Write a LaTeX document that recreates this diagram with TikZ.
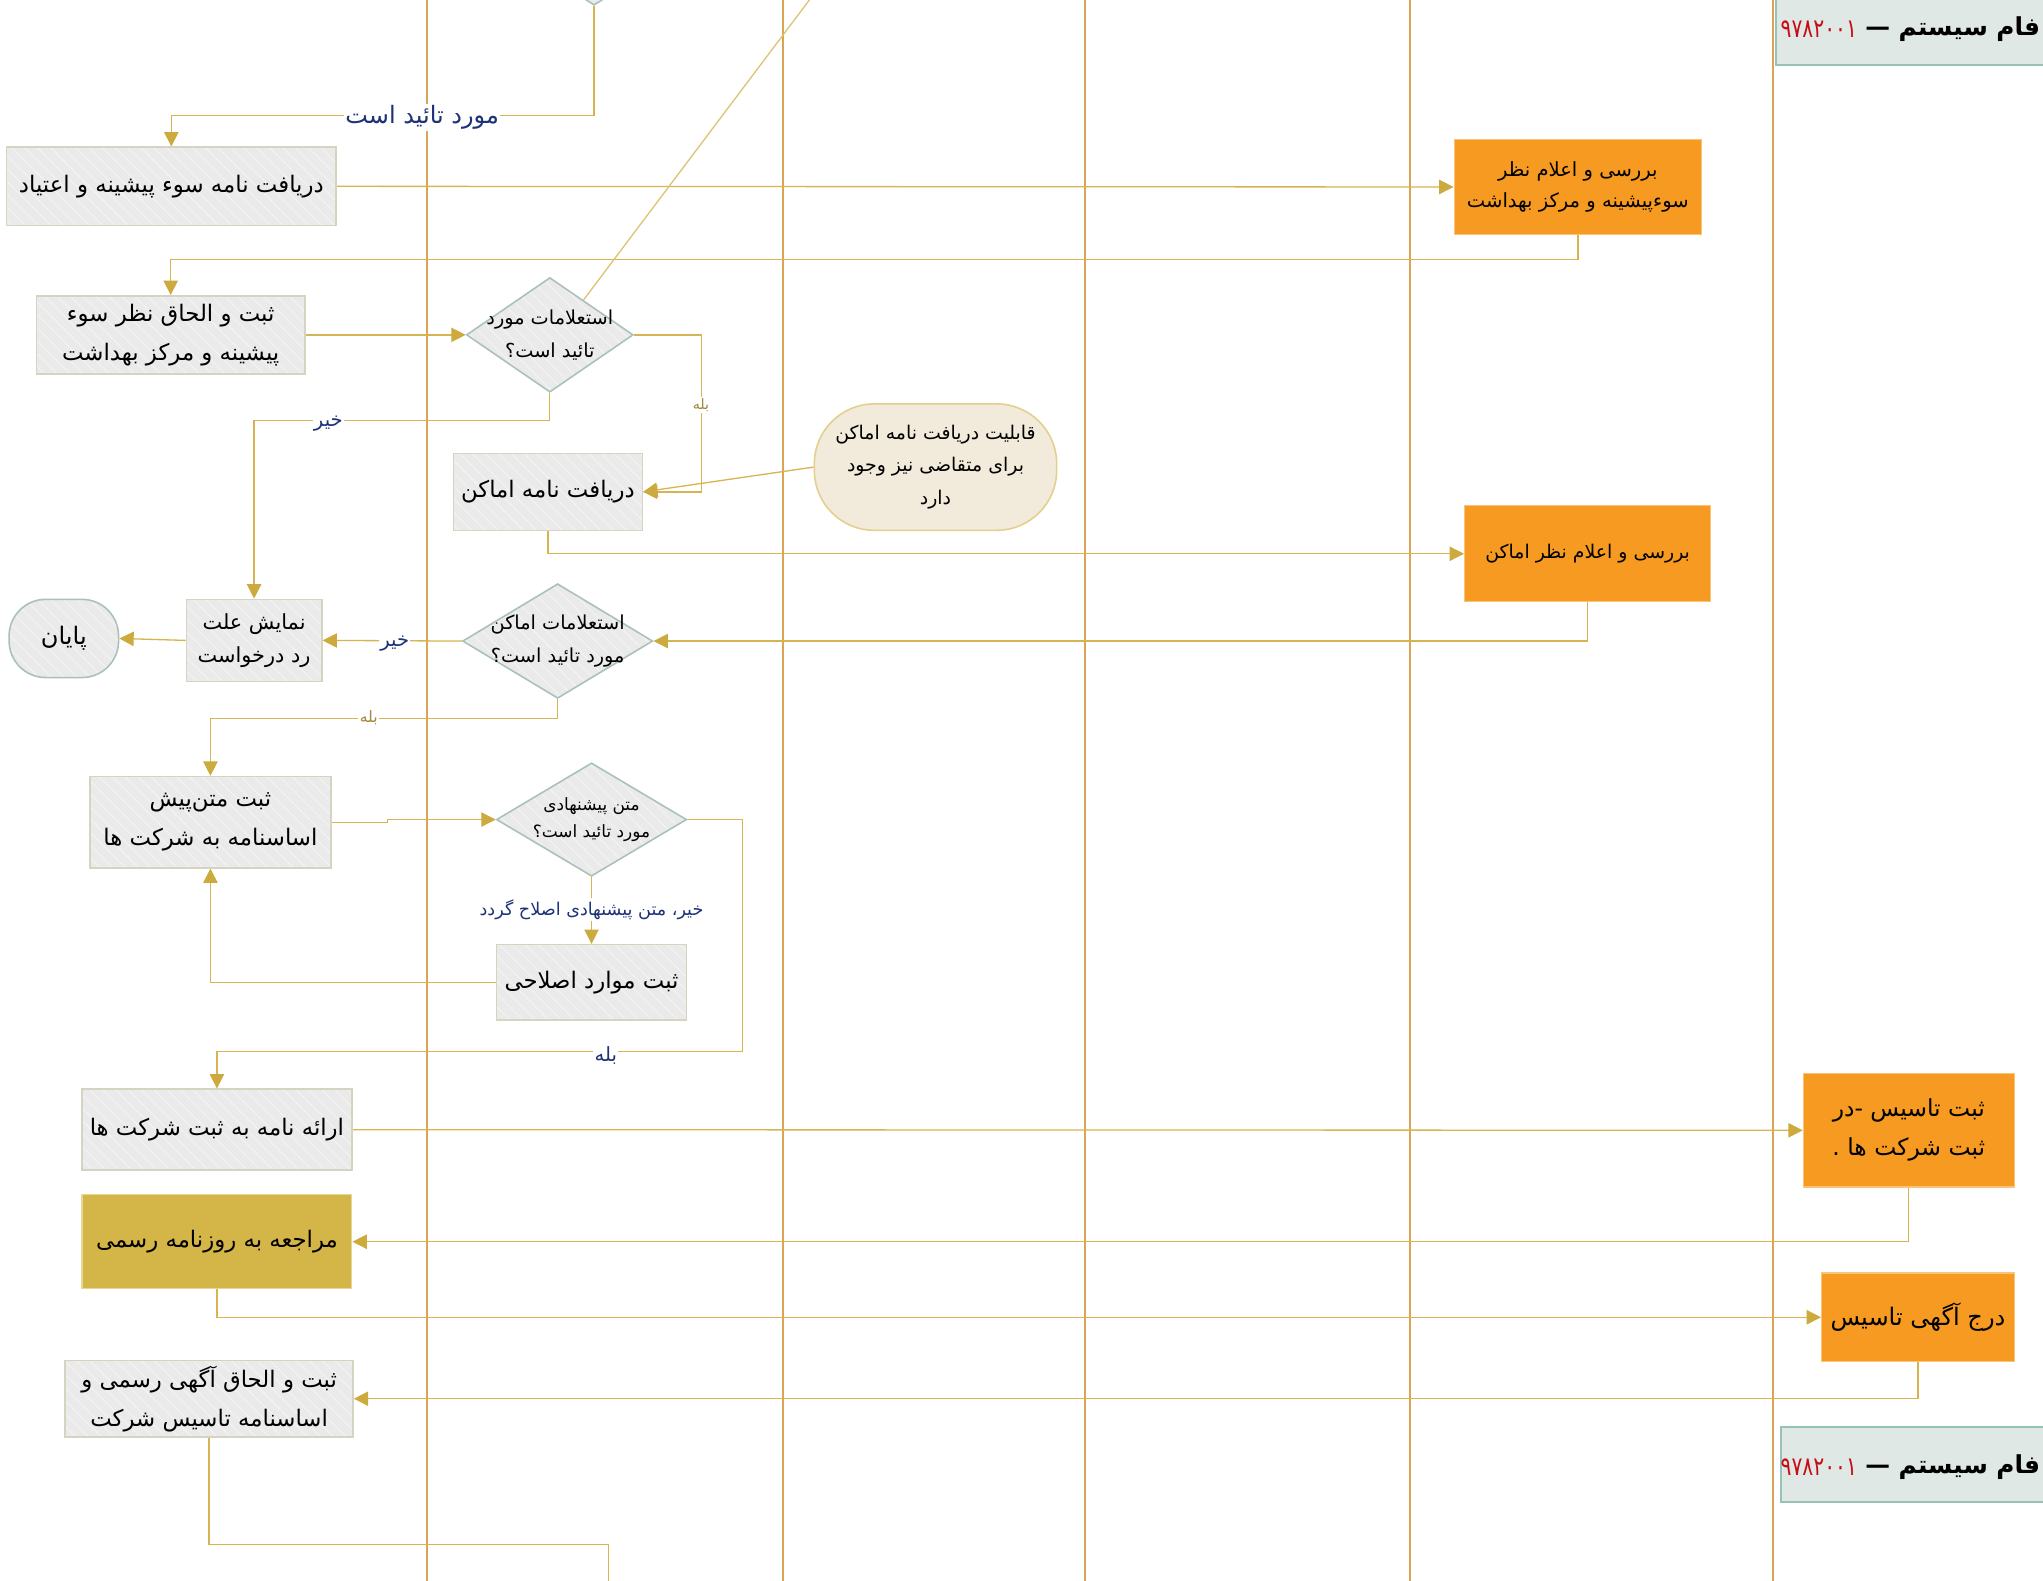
\documentclass[tikz,border=0pt]{standalone}
\usepackage{fontspec}
\usetikzlibrary{shapes.geometric,arrows.meta,calc,patterns.meta,backgrounds}
\newfontfamily\fafont[Script=Arabic]{DejaVu Sans}
\TeXXeTstate=1
\newcommand\rl[1]{\beginR#1\endR}
\definecolor{lanec}{RGB}{218,164,84}
\definecolor{connc}{RGB}{214,180,82}
\definecolor{arrc}{RGB}{205,170,62}
\definecolor{grayf}{RGB}{234,234,234}
\definecolor{grayp}{RGB}{243,243,243}
\definecolor{grayb}{RGB}{214,211,192}
\definecolor{diab}{RGB}{170,192,186}
\definecolor{orangef}{RGB}{247,154,33}
\definecolor{orangeb}{RGB}{250,196,120}
\definecolor{goldf}{RGB}{212,181,72}
\definecolor{goldb}{RGB}{232,214,150}
\definecolor{notef}{RGB}{242,234,218}
\definecolor{noteb}{RGB}{226,208,140}
\definecolor{titlef}{RGB}{223,232,228}
\definecolor{titleb}{RGB}{150,195,180}
\definecolor{labblue}{RGB}{30,50,120}
\definecolor{labgold}{RGB}{160,136,60}
\definecolor{titlered}{RGB}{200,10,20}
\tikzset{
  lane/.style={draw=lanec, line width=1.6pt},
  conn/.style={draw=connc, line width=1pt},
  arr/.style={conn, -{Triangle[length=11pt,width=11pt,color=arrc]}},
  hatch/.style={preaction={fill=grayf}, pattern={Lines[angle=-45,distance=7pt,line width=0.8pt]}, pattern color=grayp},
  graybox/.style={rectangle, hatch, draw=grayb, line width=1.2pt, inner sep=0pt, align=center,
     font=\fafont\fontsize{17.5}{30}\selectfont},
  dia/.style={diamond, hatch, draw=diab, line width=1.2pt, inner sep=0pt},
  diatext/.style={align=center, inner sep=0pt, font=\fafont\fontsize{14.8}{25}\selectfont},
  orangebox/.style={rectangle, fill=orangef, draw=orangeb, line width=0.8pt, inner sep=0pt, align=center,
     font=\fafont\fontsize{15}{24}\selectfont},
  goldbox/.style={rectangle, fill=goldf, draw=goldb, line width=1pt, inner sep=0pt, align=center,
     font=\fafont\fontsize{17.5}{30}\selectfont},
  notebox/.style={rectangle, rounded corners=46pt, fill=notef, draw=noteb, line width=1.2pt, inner sep=0pt,
     align=center, font=\fafont\fontsize{14.5}{25}\selectfont},
  termbox/.style={rectangle, rounded corners=28pt, hatch, draw=diab, line width=1.2pt, inner sep=0pt,
     font=\fafont\fontsize{18.5}{24}\selectfont},
  titlebox/.style={rectangle, fill=titlef, draw=titleb, line width=1.6pt, inner sep=0pt},
  titletext/.style={anchor=east, inner sep=0pt, font=\fafont\bfseries\fontsize{19}{24}\selectfont},
  titlenum/.style={anchor=east, inner sep=0pt, text=titlered, xscale=0.78, transform shape,
     font=\fafont\fontsize{20}{24}\selectfont},
  bluelab/.style={fill=white, inner sep=1pt, text=labblue, font=\fafont\fontsize{15}{18}\selectfont},
  goldlab/.style={fill=white, inner sep=1pt, text=labgold, font=\fafont\fontsize{11}{13}\selectfont},
}
\begin{document}
\begin{tikzpicture}[x=1pt,y=-1pt]
\useasboundingbox (0,0) rectangle (1568,1213);
\clip (0,0) rectangle (1568,1213);

% ---------- nodes ----------
\node[dia, minimum width=140pt, minimum height=88pt] (D0) at (456,-40) {};

\node[graybox, minimum width=253pt, minimum height=60pt] (A) at (131.5,143)
  {\rl{دریافت نامه سوء پیشینه و اعتیاد}};
\node[orangebox, minimum width=190pt, minimum height=73pt] (B) at (1211,143.5)
  {\rl{بررسی و اعلام نظر}\\\rl{سوءپیشینه و مرکز بهداشت}};
\node[graybox, minimum width=206pt, minimum height=60pt] (C) at (131,257)
  {\rl{ثبت و الحاق نظر سوء}\\\rl{پیشینه و مرکز بهداشت}};
\node[dia, minimum width=128pt, minimum height=88pt] (D1) at (422,257) {};
\node[diatext] (D1t) at (D1.center) {\rl{استعلامات مورد}\\\rl{تائید است؟}};
\node[graybox, minimum width=145pt, minimum height=59pt] (E) at (420.5,377.5)
  {\rl{دریافت نامه اماکن}};
\node[notebox, minimum width=186pt, minimum height=97pt] (note) at (718,358.5)
  {\rl{قابلیت دریافت نامه اماکن}\\\rl{برای متقاضی نیز وجود}\\\rl{دارد}};
\node[orangebox, minimum width=189pt, minimum height=74pt, font=\fafont\fontsize{14.5}{24}\selectfont] (F) at (1218.5,425)
  {\rl{بررسی و اعلام نظر اماکن}};
\node[dia, minimum width=146pt, minimum height=88pt] (D2) at (428,492) {};
\node[diatext] (D2t) at (D2.center) {\rl{استعلامات اماکن}\\\rl{مورد تائید است؟}};
\node[graybox, minimum width=104pt, minimum height=63pt, font=\fafont\fontsize{16}{25}\selectfont] (G) at (195,491.5)
  {\rl{نمایش علت}\\\rl{رد درخواست}};
\node[termbox, minimum width=84pt, minimum height=60pt] (H) at (49,490) {\rl{پایان}};
\node[graybox, minimum width=185pt, minimum height=70pt] (I) at (161.5,631)
  {\rl{ثبت متن‌پیش}\\\rl{اساسنامه به شرکت ها}};
\node[dia, minimum width=146pt, minimum height=87pt] (D3) at (454,629) {};
\node[diatext, font=\fafont\fontsize{13}{21}\selectfont] (D3t) at (D3.center) {\rl{متن پیشنهادی}\\\rl{مورد تائید است؟}};
\node[graybox, minimum width=146pt, minimum height=58pt] (J) at (454,754) {\rl{ثبت موارد اصلاحی}};
\node[graybox, minimum width=207pt, minimum height=62pt] (K) at (166.5,867) {\rl{ارائه نامه به ثبت شرکت ها}};
\node[orangebox, minimum width=162pt, minimum height=87pt, font=\fafont\fontsize{18}{30}\selectfont] (L) at (1465,867.5)
  {\rl{ثبت تاسیس -در}\\\rl{ثبت شرکت ها .}};
\node[goldbox, minimum width=207pt, minimum height=72pt] (M) at (166.5,953) {\rl{مراجعه به روزنامه رسمی}};
\node[orangebox, minimum width=148pt, minimum height=68pt, font=\fafont\fontsize{18.5}{27}\selectfont] (N) at (1472,1011) {\rl{درج آگهی تاسیس}};
\node[graybox, minimum width=221pt, minimum height=59pt] (O) at (160.5,1073.5)
  {\rl{ثبت و الحاق آگهی رسمی و}\\\rl{اساسنامه تاسیس شرکت}};

\node[titlebox, minimum width=220pt, minimum height=62pt] (T1) at (1473,19) {};
\node[titletext] (T1t) at (1566,22) {\rl{فام سیستم —}};
\node[titlenum] (T1n) at ([xshift=-6pt]T1t.west) {۹۷۸۲۰۰۱};
\node[titlebox, minimum width=216pt, minimum height=58pt] (T2) at (1475,1124) {};
\node[titletext] (T2t) at (1566,1126) {\rl{فام سیستم —}};
\node[titlenum] (T2n) at ([xshift=-6pt]T2t.west) {۹۷۸۲۰۰۱};

\coordinate (out) at (467,1225);
\coordinate (far) at (640,-25);

% ---------- labels ----------
\node[bluelab, font=\fafont\fontsize{18.4}{22}\selectfont] (lab1) at (324,90) {\rl{مورد تائید است}};
\node[goldlab] (lab2) at (538,311) {\rl{بله}};
\node[bluelab] (lab3) at (252,325) {\rl{خیر}};
\node[bluelab] (lab4) at (303,494) {\rl{خیر}};
\node[goldlab, font=\fafont\fontsize{12}{14}\selectfont] (lab5) at (283,551) {\rl{بله}};
\node[bluelab, font=\fafont\fontsize{13.5}{16}\selectfont] (lab6) at (454,698) {\rl{خیر، متن پیشنهادی اصلاح گردد}};
\node[bluelab] (lab7) at (465,810) {\rl{بله}};

% ---------- lanes and connectors ----------
\begin{scope}[on background layer]
  \fill[white] (0,0) rectangle (1568,1213);
  \foreach \lx in {328,601,833,1082,1361} \draw[lane] (\lx,-5) -- (\lx,1220);

  \draw[arr] (D0.south) -- ++(0,84) -| (A.north);
  \draw[arr] (A.east) -- (B.west);
  \draw[arr] (B.south) -- ++(0,19) -| (C.north);
  \draw[arr] (C.east) -- (D1.west);
  \draw[conn, draw=connc!80] ($(D1.north)!0.4!(D1.east)$) -- (far);
  \draw[arr] (D1.east) -- ++(52,0) |- (E.east);
  \draw[arr] (D1.south) -- ++(0,21) -| (G.north);
  \draw[arr] (note.west) -- (E.east);
  \draw[arr] (E.south) |- (F.west);
  \draw[arr] (F.south) |- (D2.east);
  \draw[arr] (D2.west) -- (G.east);
  \draw[arr] (G.west) -- (H.east);
  \draw[arr] (D2.south) -- ++(0,15) -| (I.north);
  \draw[arr] (I.east) -- ++(43,0) |- (D3.west);
  \draw[arr] (D3.south) -- (J.north);
  \draw[arr] (J.west) -| (I.south);
  \draw[arr] (D3.east) -- ++(42,0) -- ++(0,178) -| (K.north);
  \draw[arr] (K.east) -- (L.west);
  \draw[arr] (L.south) |- (M.east);
  \draw[arr] (M.south) |- (N.west);
  \draw[arr] (N.south) |- (O.east);
  \draw[conn] (O.south) -- ++(0,82) -| (out);
\end{scope}
\end{tikzpicture}
\end{document}
